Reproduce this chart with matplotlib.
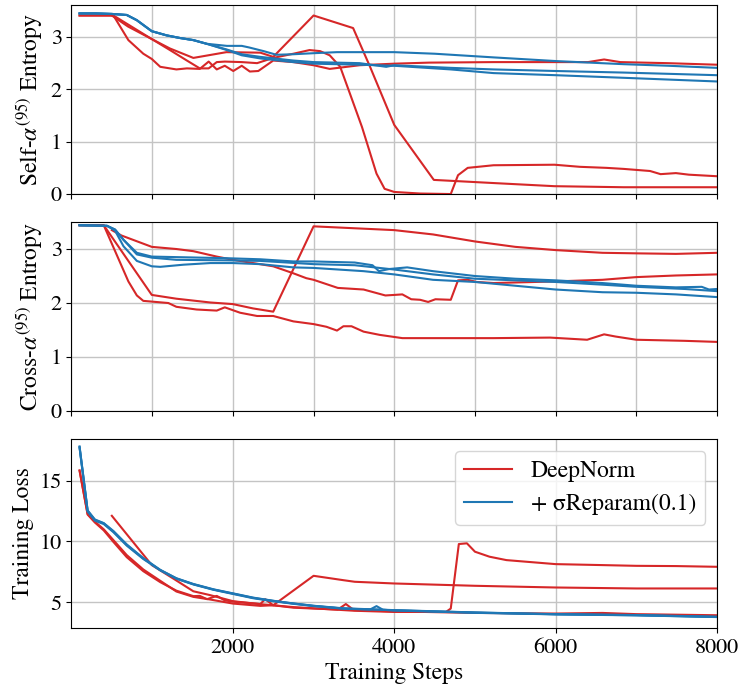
import matplotlib
matplotlib.use('Agg')
import matplotlib.pyplot as plt

plt.rcParams['font.family'] = 'STIXGeneral'
plt.rcParams['mathtext.fontset'] = 'stix'
plt.rcParams['font.size'] = 17
plt.rcParams['xtick.labelsize'] = 16
plt.rcParams['ytick.labelsize'] = 16

RED = '#d62728'
BLUE = '#1f77b4'

# ---- Self-alpha(95) entropy ----
self_blue1_x = [100, 300, 500, 685, 810, 995, 1180, 1345, 1510, 1675, 1800, 1925, 2110, 2200, 2380, 2540, 2750, 3000, 3290, 4000, 4500, 5230, 6000, 6845, 7400, 8000]
self_blue1_y = [3.45, 3.45, 3.44, 3.42, 3.32, 3.11, 3.03, 2.98, 2.94, 2.87, 2.85, 2.83, 2.83, 2.80, 2.73, 2.66, 2.67, 2.69, 2.71, 2.71, 2.68, 2.61, 2.54, 2.48, 2.45, 2.41]
self_blue2_x = [100, 300, 500, 685, 810, 995, 1180, 1345, 1510, 1675, 1925, 2110, 2340, 2750, 3000, 3570, 3900, 4000, 4700, 5230, 6000, 6845, 8000]
self_blue2_y = [3.45, 3.45, 3.44, 3.42, 3.32, 3.11, 3.03, 2.98, 2.94, 2.87, 2.76, 2.67, 2.62, 2.55, 2.52, 2.50, 2.43, 2.46, 2.41, 2.38, 2.35, 2.32, 2.27]
self_blue3_x = [100, 300, 500, 685, 810, 995, 1180, 1345, 1510, 1675, 1925, 2110, 2340, 2750, 3000, 3570, 4000, 4700, 5230, 6000, 6845, 8000]
self_blue3_y = [3.45, 3.45, 3.44, 3.42, 3.32, 3.11, 3.03, 2.98, 2.94, 2.87, 2.75, 2.65, 2.59, 2.52, 2.49, 2.47, 2.45, 2.38, 2.31, 2.27, 2.22, 2.15]

self_redA_x = [100, 520, 995, 1220, 1510, 1920, 2340, 2500, 3000, 3490, 3700, 4000, 4490, 5230, 5985, 6845, 8000]
self_redA_y = [3.41, 3.41, 2.96, 2.78, 2.60, 2.71, 2.70, 2.62, 3.41, 3.17, 2.43, 1.32, 0.27, 0.21, 0.15, 0.13, 0.13]
self_redB_x = [500, 700, 995, 1220, 1430, 1590, 1700, 1800, 1900, 2110, 2300, 2500, 2750, 2950, 3080, 3200, 3330, 3450, 3600, 3780, 3880, 4000, 4320, 4700, 4790, 4910, 5230, 5985, 6300, 6630, 6845, 7170, 7300, 7490, 7650, 8000]
self_redB_y = [3.41, 3.2, 2.96, 2.75, 2.55, 2.40, 2.40, 2.52, 2.53, 2.52, 2.50, 2.60, 2.68, 2.75, 2.73, 2.65, 2.43, 1.92, 1.28, 0.39, 0.10, 0.04, 0.01, 0.0, 0.36, 0.50, 0.55, 0.56, 0.52, 0.50, 0.48, 0.44, 0.38, 0.40, 0.37, 0.34]
self_redC_x = [100, 520, 705, 890, 995, 1100, 1300, 1430, 1590, 1700, 1800, 1900, 2005, 2110, 2210, 2315, 2500, 2750, 3000, 3200, 3570, 4000, 4430, 5230, 5985, 6400, 6600, 6800, 7380, 8000]
self_redC_y = [3.41, 3.41, 2.94, 2.68, 2.58, 2.43, 2.38, 2.40, 2.39, 2.53, 2.38, 2.45, 2.35, 2.45, 2.34, 2.35, 2.55, 2.52, 2.46, 2.39, 2.46, 2.49, 2.51, 2.52, 2.52, 2.52, 2.57, 2.52, 2.50, 2.47]

# ---- Cross-alpha(95) entropy ----
cross_blue1_x = [100, 440, 540, 645, 810, 995, 1300, 1925, 2340, 2750, 3000, 3510, 3730, 3810, 3940, 4160, 4480, 5000, 5500, 6000, 6580, 7000, 7490, 7810, 7900, 8000]
cross_blue1_y = [3.44, 3.43, 3.36, 3.17, 2.93, 2.86, 2.85, 2.83, 2.81, 2.77, 2.77, 2.75, 2.70, 2.59, 2.63, 2.66, 2.59, 2.50, 2.45, 2.42, 2.37, 2.32, 2.29, 2.30, 2.25, 2.26]
cross_blue2_x = [100, 440, 540, 645, 810, 995, 1300, 1925, 2340, 3000, 3510, 4000, 4480, 5000, 5500, 6000, 6580, 7000, 7600, 8000]
cross_blue2_y = [3.44, 3.43, 3.36, 3.17, 2.90, 2.84, 2.80, 2.79, 2.78, 2.72, 2.70, 2.62, 2.53, 2.45, 2.42, 2.39, 2.34, 2.30, 2.26, 2.22]
cross_blue3_x = [100, 440, 540, 645, 810, 995, 1100, 1390, 1720, 2000, 2340, 2750, 3000, 3620, 4000, 4480, 5000, 5500, 6000, 6580, 7000, 7490, 8000]
cross_blue3_y = [3.44, 3.43, 3.34, 3.05, 2.78, 2.68, 2.67, 2.71, 2.74, 2.74, 2.72, 2.66, 2.65, 2.59, 2.53, 2.43, 2.39, 2.32, 2.25, 2.20, 2.19, 2.16, 2.11]

cross_redA_x = [100, 400, 995, 1300, 1720, 2000, 2250, 2500, 3000, 4000, 4480, 5000, 5500, 6000, 6580, 7000, 7490, 8000]
cross_redA_y = [3.44, 3.44, 2.15, 2.08, 2.01, 1.98, 1.90, 1.84, 3.42, 3.35, 3.27, 3.14, 3.04, 2.98, 2.93, 2.92, 2.91, 2.93]
cross_redB_x = [500, 620, 995, 1300, 1510, 1800, 2000, 2250, 2500, 2750, 2910, 3000, 3300, 3620, 3890, 4000, 4100, 4210, 4320, 4420, 4510, 4700, 4790, 4910, 5020, 5230, 6000, 6580, 7000, 7490, 8000]
cross_redB_y = [3.35, 3.25, 3.04, 3.0, 2.96, 2.86, 2.8, 2.74, 2.68, 2.55, 2.46, 2.43, 2.28, 2.25, 2.14, 2.15, 2.16, 2.07, 2.06, 2.02, 2.07, 2.06, 2.42, 2.43, 2.39, 2.37, 2.40, 2.43, 2.48, 2.51, 2.53]
cross_redC_x = [100, 400, 705, 810, 890, 1200, 1300, 1550, 1800, 1900, 2090, 2300, 2500, 2750, 3000, 3160, 3290, 3370, 3470, 3620, 3820, 4100, 4700, 5230, 5930, 6390, 6600, 6740, 7000, 7600, 8000]
cross_redC_y = [3.44, 3.44, 2.40, 2.14, 2.04, 2.0, 1.93, 1.88, 1.86, 1.92, 1.82, 1.76, 1.76, 1.66, 1.61, 1.56, 1.49, 1.57, 1.57, 1.47, 1.41, 1.35, 1.35, 1.35, 1.36, 1.32, 1.42, 1.38, 1.32, 1.30, 1.28]

# ---- Training loss ----
loss_blue1_x = [100, 200, 290, 400, 520, 685, 890, 1100, 1300, 1510, 1760, 2000, 2250, 2500, 2750, 3000, 3370, 4000, 5000, 6000, 7000, 8000]
loss_blue1_y = [17.75, 12.5, 11.76, 11.48, 10.8, 9.7, 8.6, 7.64, 6.95, 6.48, 6.04, 5.71, 5.36, 5.11, 4.89, 4.70, 4.48, 4.34, 4.15, 4.01, 3.93, 3.79]
loss_blue2_x = [100, 200, 290, 400, 520, 685, 890, 1100, 1300, 1510, 1760, 2000, 2250, 2500, 2750, 3000, 3370, 3700, 3780, 3860, 4000, 5000, 6000, 7000, 8000]
loss_blue2_y = [17.7, 12.45, 11.7, 11.42, 10.75, 9.65, 8.55, 7.62, 6.93, 6.46, 6.02, 5.68, 5.33, 5.08, 4.87, 4.68, 4.47, 4.40, 4.68, 4.38, 4.32, 4.13, 4.00, 3.92, 3.78]
loss_blue3_x = [100, 200, 290, 400, 520, 685, 890, 1100, 1300, 1510, 1760, 2000, 2250, 2500, 2750, 3000, 3370, 4000, 5000, 6000, 7000, 8000]
loss_blue3_y = [17.8, 12.55, 11.8, 11.5, 10.85, 9.75, 8.62, 7.66, 6.97, 6.5, 6.06, 5.73, 5.38, 5.12, 4.9, 4.71, 4.5, 4.35, 4.16, 4.02, 3.95, 3.81]

loss_redA_x = [100, 200, 290, 400, 520, 685, 890, 1100, 1300, 1510, 1720, 2000, 2340, 2500, 3000, 3370, 3510, 4000, 5000, 6000, 7000, 8000]
loss_redA_y = [15.82, 12.25, 11.62, 10.99, 10.1, 8.87, 7.69, 6.76, 5.88, 5.44, 5.22, 4.89, 4.70, 4.75, 7.17, 6.81, 6.68, 6.54, 6.35, 6.21, 6.13, 6.13]
loss_redB_x = [500, 995, 1260, 1510, 1720, 2005, 2340, 2750, 3000, 3500, 4000, 4640, 4700, 4800, 4900, 5000, 5180, 5390, 6000, 6580, 7000, 7490, 8000]
loss_redB_y = [12.1, 8.05, 6.95, 5.9, 5.58, 5.08, 4.84, 4.6, 4.5, 4.3, 4.2, 4.2, 4.48, 9.78, 9.84, 9.15, 8.74, 8.46, 8.13, 8.05, 7.99, 7.97, 7.91]
loss_redC_x = [100, 200, 290, 400, 520, 685, 890, 1100, 1300, 1510, 1590, 1680, 1800, 1900, 2000, 2340, 2400, 2500, 2750, 3000, 3300, 3400, 3500, 4000, 5000, 6000, 6580, 7000, 8000]
loss_redC_y = [15.82, 12.2, 11.55, 10.9, 9.95, 8.7, 7.55, 6.65, 5.95, 5.50, 5.52, 5.25, 5.52, 5.15, 5.05, 4.85, 5.25, 4.75, 4.55, 4.48, 4.40, 4.85, 4.35, 4.25, 4.12, 4.07, 4.12, 4.02, 3.93]

fig, axes = plt.subplots(3, 1, figsize=(7.4, 6.89), dpi=100)
fig.subplots_adjust(left=0.0966, right=0.969, top=0.9927, bottom=0.0885, hspace=0.148)

ax1, ax2, ax3 = axes
lw = 1.5

ax1.plot(self_redA_x, self_redA_y, color=RED, lw=lw)
ax1.plot(self_redB_x, self_redB_y, color=RED, lw=lw)
ax1.plot(self_redC_x, self_redC_y, color=RED, lw=lw)
ax1.plot(self_blue1_x, self_blue1_y, color=BLUE, lw=lw)
ax1.plot(self_blue2_x, self_blue2_y, color=BLUE, lw=lw)
ax1.plot(self_blue3_x, self_blue3_y, color=BLUE, lw=lw)

ax2.plot(cross_redA_x, cross_redA_y, color=RED, lw=lw)
ax2.plot(cross_redB_x, cross_redB_y, color=RED, lw=lw)
ax2.plot(cross_redC_x, cross_redC_y, color=RED, lw=lw)
ax2.plot(cross_blue1_x, cross_blue1_y, color=BLUE, lw=lw)
ax2.plot(cross_blue2_x, cross_blue2_y, color=BLUE, lw=lw)
ax2.plot(cross_blue3_x, cross_blue3_y, color=BLUE, lw=lw)

ax3.plot(loss_redA_x, loss_redA_y, color=RED, lw=lw, label='DeepNorm')
ax3.plot(loss_redB_x, loss_redB_y, color=RED, lw=lw)
ax3.plot(loss_redC_x, loss_redC_y, color=RED, lw=lw)
ax3.plot(loss_blue1_x, loss_blue1_y, color=BLUE, lw=lw, label='+ σReparam(0.1)')
ax3.plot(loss_blue2_x, loss_blue2_y, color=BLUE, lw=lw)
ax3.plot(loss_blue3_x, loss_blue3_y, color=BLUE, lw=lw)

ax1.set_ylim(0, 3.61)
ax2.set_ylim(0, 3.5)
ax3.set_ylim(2.88, 18.41)
for ax in (ax1, ax2):
    ax.set_yticks([0, 1, 2, 3])
    ax.set_xticks(range(0, 8001, 1000))
    ax.set_xticklabels([])
ax3.set_yticks([5, 10, 15])
ax3.set_xticks([2000, 4000, 6000, 8000])

for ax in axes:
    ax.set_xlim(0, 8000)
    ax.grid(True, color='#c4c4c4', linewidth=1.0)

ax1.set_ylabel(r'Self-$\alpha^{(95)}$ Entropy')
ax2.set_ylabel(r'Cross-$\alpha^{(95)}$ Entropy')
ax3.set_ylabel('Training Loss')
ax3.set_xlabel('Training Steps')
ax3.legend(loc='upper right')

plt.savefig('out.png')
